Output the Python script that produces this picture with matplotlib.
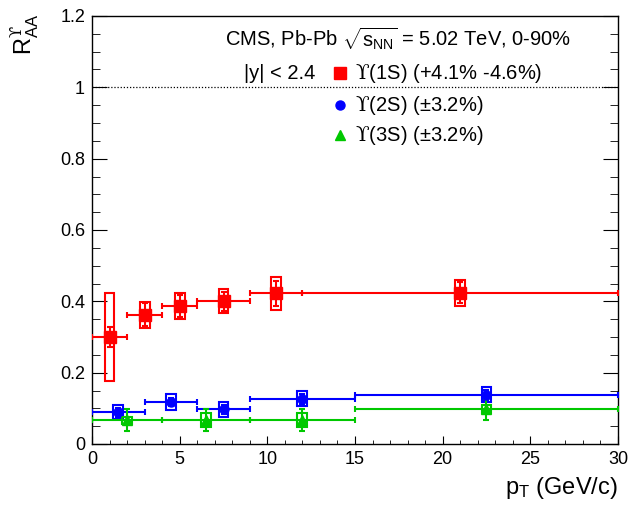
import matplotlib
matplotlib.use("Agg")
import matplotlib.pyplot as plt
import numpy as np
from matplotlib.patches import Rectangle
from matplotlib.ticker import MultipleLocator

plt.rcParams["font.family"] = ["Liberation Sans", "DejaVu Sans"]
plt.rcParams["mathtext.fontset"] = "custom"
plt.rcParams["mathtext.rm"] = "Liberation Sans"
plt.rcParams["mathtext.it"] = "Liberation Sans:italic"
# serif upsilon with hooked arms
plt.rcParams["mathtext.cal"] = "DejaVu Serif"

# Upsilon(1S)
pt_1s = np.array([1.0, 3.0, 5.0, 7.5, 10.5, 21.0])
pt_lo_1s = np.array([0, 2, 4, 6, 9, 12])
pt_hi_1s = np.array([2, 4, 6, 9, 12, 30])
raa_1s = np.array([0.300, 0.362, 0.387, 0.400, 0.422, 0.424])
stat_1s = np.array([0.027, 0.032, 0.030, 0.027, 0.035, 0.030])
syst_1s = np.array([0.124, 0.037, 0.037, 0.034, 0.045, 0.037])

# Upsilon(2S)
pt_2s = np.array([1.5, 4.5, 7.5, 12.0, 22.5])
pt_lo_2s = np.array([0, 3, 6, 9, 15])
pt_hi_2s = np.array([3, 6, 9, 15, 30])
raa_2s = np.array([0.089, 0.118, 0.097, 0.127, 0.138])
stat_2s = np.array([0.012, 0.012, 0.012, 0.014, 0.014])
syst_2s = np.array([0.020, 0.022, 0.020, 0.021, 0.021])

# Upsilon(3S)
pt_3s = np.array([2.0, 6.5, 12.0, 22.5])
pt_lo_3s = np.array([0, 4, 9, 15])
pt_hi_3s = np.array([4, 9, 15, 30])
raa_3s = np.array([0.067, 0.067, 0.067, 0.097])
stat_3s = np.array([0.030, 0.030, 0.030, 0.030])
syst_3s = np.array([0.010, 0.020, 0.020, 0.011])

RED = "#ff0000"
BLUE = "#0000ff"
GREEN = "#00c800"
BOX_HALF = 0.28
UPS = "\\mathcal{\u03d2}"

fig = plt.figure(figsize=(6.3, 5.07), dpi=100)
ax = fig.add_axes([92 / 630, 1 - 444 / 507, 526 / 630, 428 / 507])


def draw_state(x, lo, hi, y, stat, syst, color, marker, ms):
    for xi, yi, si in zip(x, y, syst):
        ax.add_patch(Rectangle((xi - BOX_HALF, yi - si), 2 * BOX_HALF, 2 * si,
                               fill=False, edgecolor=color, lw=1.5, zorder=3))
    ax.errorbar(x, y, xerr=[x - lo, hi - x], yerr=stat, fmt=marker, color=color,
                ms=ms, elinewidth=1.5, capsize=2.2, capthick=1.5, zorder=4)


draw_state(pt_1s, pt_lo_1s, pt_hi_1s, raa_1s, stat_1s, syst_1s, RED, "s", 8)
draw_state(pt_2s, pt_lo_2s, pt_hi_2s, raa_2s, stat_2s, syst_2s, BLUE, "o", 6.5)
draw_state(pt_3s, pt_lo_3s, pt_hi_3s, raa_3s, stat_3s, syst_3s, GREEN, "^", 6.5)

ax.axhline(1.0, color="black", ls=(0, (1, 1.5)), lw=0.9, zorder=1)

ax.set_xlim(0, 30)
ax.set_ylim(0, 1.2)
ax.xaxis.set_major_locator(MultipleLocator(5))
ax.xaxis.set_minor_locator(MultipleLocator(1))
ax.yaxis.set_minor_locator(MultipleLocator(0.05))
ax.set_yticks([0, 0.2, 0.4, 0.6, 0.8, 1.0, 1.2])
ax.set_yticklabels(["0", "0.2", "0.4", "0.6", "0.8", "1", "1.2"])
ax.tick_params(axis="x", which="both", direction="in", top=False, labelsize=13, pad=5)
ax.tick_params(axis="x", which="major", length=6)
ax.tick_params(axis="x", which="minor", length=3)
ax.tick_params(axis="y", which="both", direction="in", right=True, labelsize=13, pad=5)
ax.tick_params(axis="y", which="major", length=11)
ax.tick_params(axis="y", which="minor", length=5.5)
for sp in ax.spines.values():
    sp.set_linewidth(1.0)

fig.text(618 / 630, 1 - 488 / 507, r"p$_{\mathrm{T}}$ (GeV/c)", ha="right",
         va="center", fontsize=17)
fig.text(25 / 630, 1 - 14 / 507, "R$_{\\mathrm{AA}}^{" + UPS + "}$", ha="center",
         va="top", rotation=90, fontsize=17)

ax.text(17.46, 1.137, r"CMS, Pb-Pb $\sqrt{\mathrm{s}_{\mathrm{NN}}}$ = 5.02 TeV, 0-90%",
        ha="center", va="center", fontsize=14.5)
ax.text(10.7, 1.039, "|y| < 2.4", ha="center", va="center", fontsize=14.5)

legend_rows = [
    (1.039, "s", RED, 8, "(1S) (+4.1% -4.6%)"),
    (0.950, "o", BLUE, 6.5, "(2S) (\u00b13.2%)"),
    (0.866, "^", GREEN, 6.5, "(3S) (\u00b13.2%)"),
]
for ly, mk, col, ms, label in legend_rows:
    ax.plot([14.15], [ly], marker=mk, color=col, ms=ms, ls="none", clip_on=False)
    ax.text(15.0, ly, "$" + UPS + "$" + label, ha="left", va="center", fontsize=14.5)

fig.savefig("out.png", dpi=100)
